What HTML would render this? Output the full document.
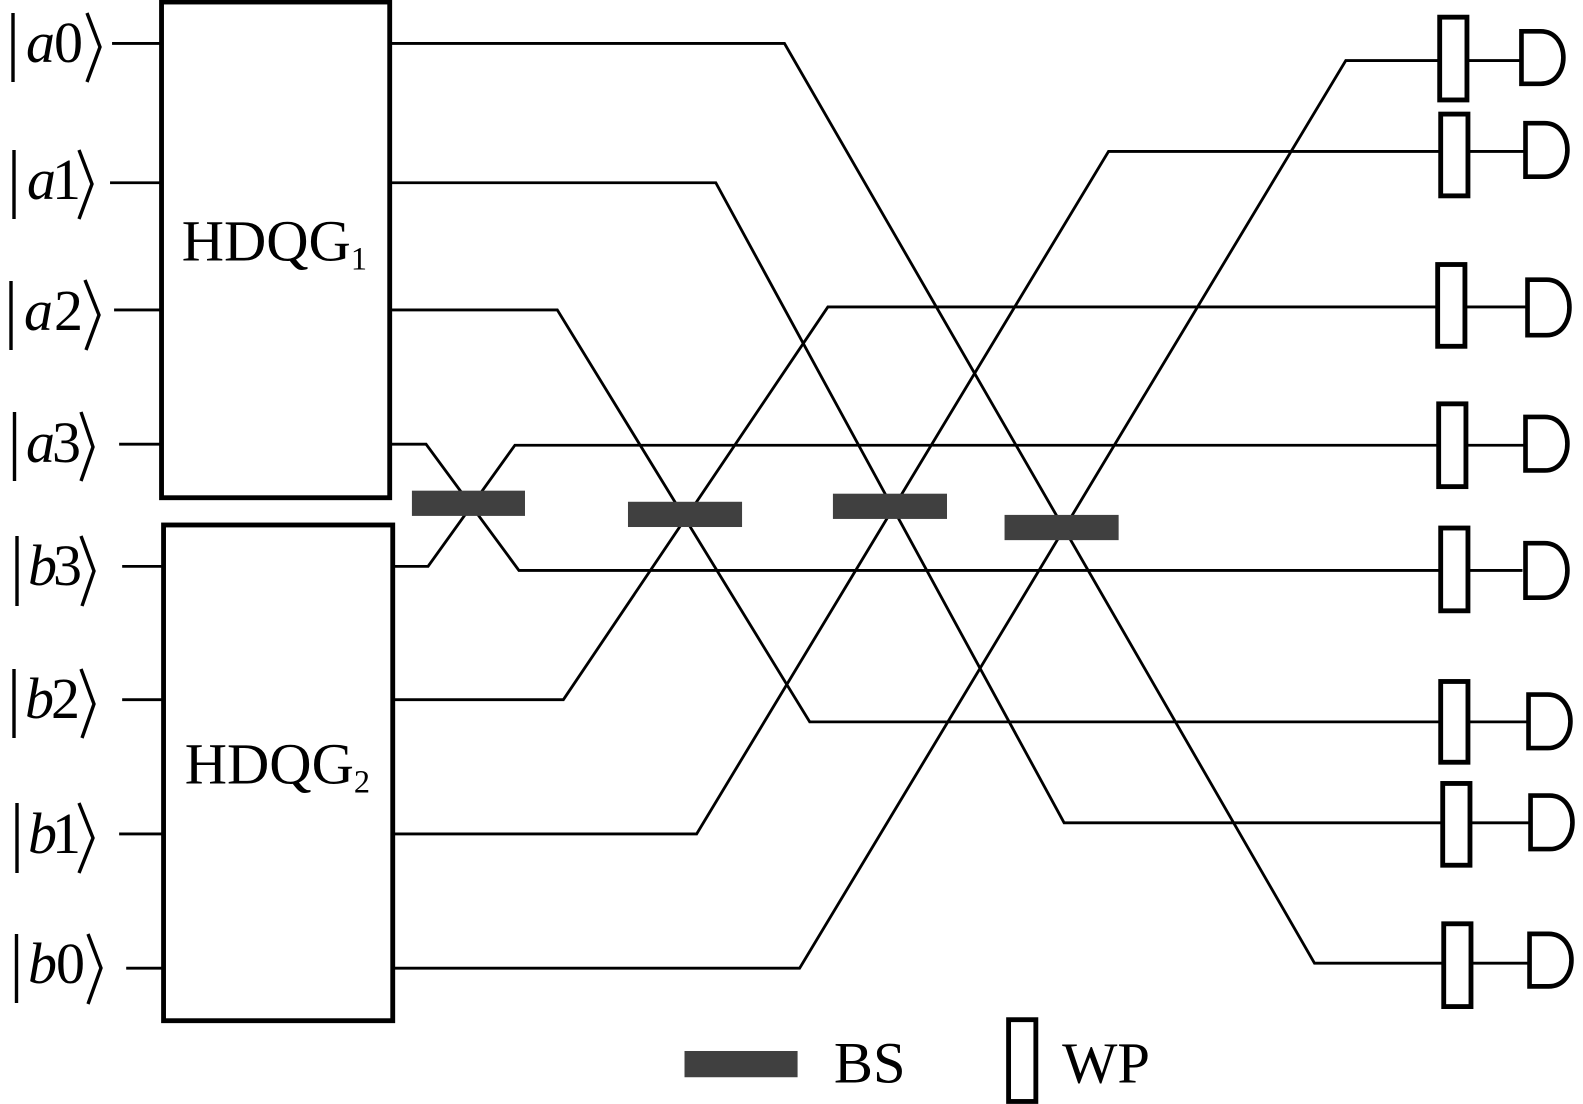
<!DOCTYPE html>
<html><head><meta charset="utf-8"><style>
html,body{margin:0;padding:0;background:#fff;width:1583px;height:1104px;overflow:hidden}
svg{display:block}
text{font-family:"Liberation Serif",serif;fill:#000}
</style></head><body>
<svg xmlns="http://www.w3.org/2000/svg" width="1583" height="1104" viewBox="0 0 1583 1104">
<rect width="1583" height="1104" fill="#fff"/>
<g transform="scale(1.0096)">
<g fill="none" stroke="#000" stroke-width="2.800">
<path d="M111 43H160M109 181H160M113 307H160M118 440H160M121 561H162M121 693H162M118 826H162M125 959H162"/>
<path d="M388 43H777L1302 954H1430M1456 954H1514"/>
<path d="M388 181H709L1054 815H1428M1456 815H1515"/>
<path d="M388 307H552L802 715H1426M1454 715H1513"/>
<path d="M388 440H422L514 565H1426M1454 565H1508"/>
<path d="M390 561H424L510 441H1424M1452 441H1510"/>
<path d="M390 693H558L820 304H1424M1451 304H1512"/>
<path d="M390 826H690L1098 150H1426M1454 150H1510"/>
<path d="M390 959H792L1333 60H1426M1453 60H1506"/>
</g>
<g fill="#fff" stroke="#000" stroke-width="4.800">
<rect x="160" y="2" width="226" height="491"/>
<rect x="162" y="520" width="227" height="491"/>
<rect x="1426" y="17" width="27" height="82"/>
<rect x="1427" y="113" width="27" height="81"/>
<rect x="1424" y="262" width="27" height="81"/>
<rect x="1425" y="400" width="27" height="82"/>
<rect x="1427" y="523" width="27" height="82"/>
<rect x="1427" y="675" width="27" height="80"/>
<rect x="1429" y="776" width="27" height="81"/>
<rect x="1430" y="915" width="27" height="82"/>
<rect x="999" y="1010" width="27" height="81"/>
</g>
<g fill="#404040">
<rect x="408" y="486" width="112" height="25"/>
<rect x="622" y="497" width="113" height="25"/>
<rect x="825" y="489" width="113" height="25"/>
<rect x="995" y="510" width="113" height="25"/>
<rect x="678" y="1041" width="112" height="26"/>
</g>
<g fill="none" stroke="#000" stroke-width="4.600">
<path d="M1507 31H1526C1556 31 1556 83 1526 83H1507Z"/>
<path d="M1511 122H1530C1560 122 1560 175 1530 175H1511Z"/>
<path d="M1513 277H1532C1562 277 1562 332 1532 332H1513Z"/>
<path d="M1511 413H1530C1560 413 1560 466 1530 466H1511Z"/>
<path d="M1511 538H1530C1560 538 1560 592 1530 592H1511Z"/>
<path d="M1514 688H1533C1563 688 1563 741 1533 741H1514Z"/>
<path d="M1516 788H1535C1565 788 1565 841 1535 841H1516Z"/>
<path d="M1515 925H1534C1564 925 1564 977 1534 977H1515Z"/>
</g>
<text x="180" y="258" font-size="58">HDQG<tspan font-size="32" dy="9">1</tspan></text>
<text x="183" y="776" font-size="58">HDQG<tspan font-size="32" dy="9">2</tspan></text>
<text x="826" y="1072" font-size="58">BS</text>
<text x="1052" y="1072" font-size="58">WP</text>
</g>
<g fill="none" stroke="#000" stroke-width="3.400">
<path d="M13 13V82M87 13L100 47L87 82"/>
<path d="M14 150V219M79 150L92 184L79 219"/>
<path d="M11 281V350M85 280L99 315L86 350"/>
<path d="M14.500 412V481M81 412L93 447L81 481"/>
<path d="M17 536V606M81 536L94 571L82 606"/>
<path d="M14 669V738M81 669L94 704L82 738"/>
<path d="M17 803V873M79 803L93 838L79 873"/>
<path d="M16.500 934V1003M88 934L101 968L88 1004"/>
</g>
<g font-size="58">
<text x="26" y="62"><tspan font-style="italic">a</tspan><tspan dx="-1">0</tspan></text>
<text x="27" y="199"><tspan font-style="italic">a</tspan><tspan dx="-4">1</tspan></text>
<text x="24" y="330"><tspan font-style="italic">a</tspan><tspan dx="1">2</tspan></text>
<text x="26" y="462"><tspan font-style="italic">a</tspan><tspan dx="-3">3</tspan></text>
<text x="28" y="585"><tspan font-style="italic">b</tspan><tspan dx="-4">3</tspan></text>
<text x="25" y="718"><tspan font-style="italic">b</tspan><tspan dx="-3">2</tspan></text>
<text x="28" y="853"><tspan font-style="italic">b</tspan><tspan dx="-5">1</tspan></text>
<text x="28" y="983"><tspan font-style="italic">b</tspan><tspan dx="-1">0</tspan></text>
</g>
</svg>
</body></html>
